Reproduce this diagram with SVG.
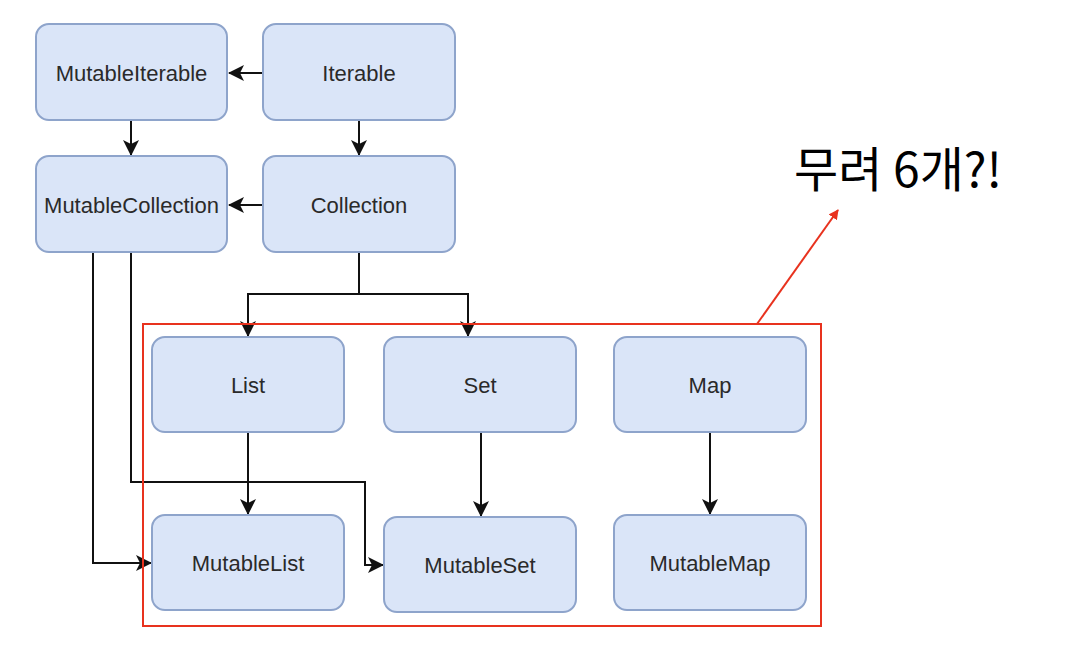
<svg xmlns="http://www.w3.org/2000/svg" width="1080" height="672" viewBox="0 0 1080 672">
<defs>
<style>
.box{fill:#dae5f8;stroke:#8ea4cb;stroke-width:2}
.lbl{font-family:"Liberation Sans",Arial,sans-serif;font-size:22px;fill:#2a2a2a;text-anchor:middle;dominant-baseline:central}
.edge{fill:none;stroke:#111;stroke-width:2}
</style>
<marker id="ah" viewBox="0 0 16 16" refX="15" refY="8" markerWidth="16" markerHeight="16" markerUnits="userSpaceOnUse" orient="auto">
<path d="M0,0 L16,8 L0,16 L4,8 z" fill="#111"/>
</marker>
<marker id="rh" viewBox="0 0 10 10" refX="9" refY="5" markerWidth="10" markerHeight="10" markerUnits="userSpaceOnUse" orient="auto">
<path d="M0,0 L10,5 L0,10 z" fill="#e8321e"/>
</marker>
</defs>
<rect width="1080" height="672" fill="#ffffff"/>
<g id="connectors">
<path class="edge" d="M263,73 H229" marker-end="url(#ah)"/>
<path class="edge" d="M131,120 V155" marker-end="url(#ah)"/>
<path class="edge" d="M359,120 V155" marker-end="url(#ah)"/>
<path class="edge" d="M263,205 H229" marker-end="url(#ah)"/>
<path class="edge" d="M359,252 V294 H248 V336" marker-end="url(#ah)"/>
<path class="edge" d="M359,294 H468 V336" marker-end="url(#ah)"/>
<path class="edge" d="M93,252 V563 H151" marker-end="url(#ah)"/>
<path class="edge" d="M131,252 V482 H365 V565 H383" marker-end="url(#ah)"/>
<path class="edge" d="M248,432 V514" marker-end="url(#ah)"/>
<path class="edge" d="M481,432 V516" marker-end="url(#ah)"/>
<path class="edge" d="M710,432 V514" marker-end="url(#ah)"/>
</g>
<g id="MutableIterable"><rect class="box" x="36" y="24" width="191" height="96" rx="13"/><text class="lbl" x="131.5" y="73">MutableIterable</text></g>
<g id="Iterable"><rect class="box" x="263" y="24" width="192" height="96" rx="13"/><text class="lbl" x="359" y="73">Iterable</text></g>
<g id="MutableCollection"><rect class="box" x="36" y="156" width="191" height="96" rx="13"/><text class="lbl" x="131.5" y="205">MutableCollection</text></g>
<g id="Collection"><rect class="box" x="263" y="156" width="192" height="96" rx="13"/><text class="lbl" x="359" y="205">Collection</text></g>
<g id="List"><rect class="box" x="152" y="337" width="192" height="95" rx="13"/><text class="lbl" x="248" y="385">List</text></g>
<g id="Set"><rect class="box" x="384" y="337" width="192" height="95" rx="13"/><text class="lbl" x="480" y="385">Set</text></g>
<g id="Map"><rect class="box" x="614" y="337" width="192" height="95" rx="13"/><text class="lbl" x="710" y="385">Map</text></g>
<g id="MutableList"><rect class="box" x="152" y="515" width="192" height="95" rx="13"/><text class="lbl" x="248" y="563">MutableList</text></g>
<g id="MutableSet"><rect class="box" x="384" y="517" width="192" height="95" rx="13"/><text class="lbl" x="480" y="565">MutableSet</text></g>
<g id="MutableMap"><rect class="box" x="614" y="515" width="192" height="95" rx="13"/><text class="lbl" x="710" y="563">MutableMap</text></g>
<g id="highlight">
<rect x="143" y="324" width="678" height="302" fill="none" stroke="#e8321e" stroke-width="2"/>
<path d="M757,324 L838,210" fill="none" stroke="#e8321e" stroke-width="2" marker-end="url(#rh)"/>
<text x="794" y="187" font-family="'Noto Sans CJK KR','Noto Sans',sans-serif" font-size="48" fill="#000">무려 6개?!</text>
</g>
</svg>
